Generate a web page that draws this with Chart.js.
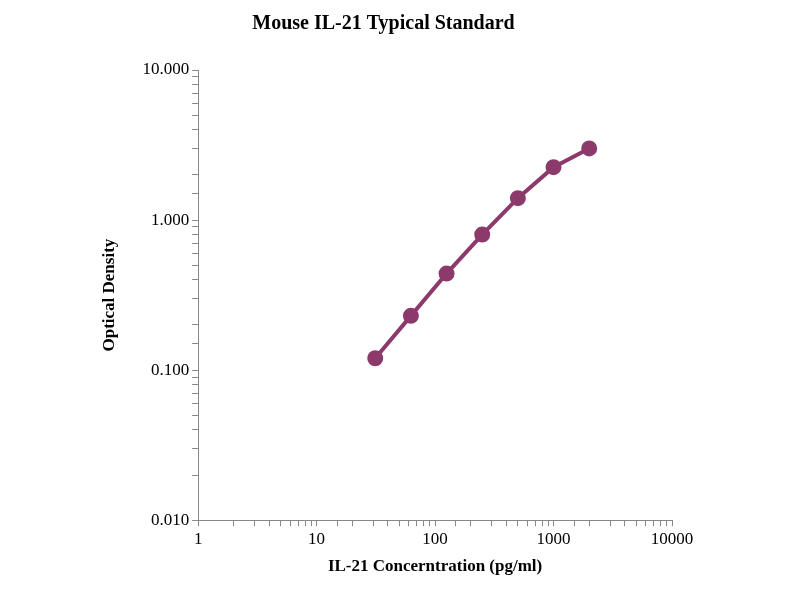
<!DOCTYPE html><html><head><script src="https://cdn.jsdelivr.net/npm/chart.js@4"></script>
<style>body{margin:0;background:#fff}#w{width:800px;height:600px}</style></head><body><div id="w"><canvas id="c"></canvas></div>
<script>
const concentrations=[31.25,62.5,125,250,500,1000,2000];
const densities=[0.120,0.230,0.440,0.800,1.40,2.25,3.00];
const yTickLabels={0.01:'0.010',0.1:'0.100',1:'1.000',10:'10.000'};
const xTickLabels={1:'1',10:'10',100:'100',1000:'1000',10000:'10000'};
const col='#8c3a6b';
const font={family:'Liberation Serif',weight:'bold',size:17};
new Chart(document.getElementById('c'),{type:'scatter',
data:{datasets:[{data:concentrations.map((x,i)=>({x,y:densities[i]})),showLine:true,borderColor:col,backgroundColor:col,borderWidth:4,pointRadius:6,pointHoverRadius:6}]},
options:{responsive:true,maintainAspectRatio:false,animation:false,
layout:{padding:{top:10,right:128,bottom:19,left:95}},
plugins:{legend:{display:false},tooltip:{enabled:false},
title:{display:true,text:'Mouse IL-21 Typical Standard',color:'#000',font:{family:'Liberation Serif',weight:'bold',size:20},padding:{top:2,bottom:34}}},
scales:{
x:{type:'logarithmic',min:1,max:10000,border:{color:'#888',width:1},
grid:{drawOnChartArea:false,tickLength:6,color:'#888'},
ticks:{autoSkip:false,maxRotation:0,color:'#000',font:{family:'Liberation Serif',size:17},callback:v=>xTickLabels[v]||''},
title:{display:true,text:'IL-21 Concerntration (pg/ml)',color:'#000',font,padding:{top:4}}},
y:{type:'logarithmic',min:0.01,max:10,border:{color:'#888',width:1},
grid:{drawOnChartArea:false,tickLength:6,color:'#888'},
ticks:{autoSkip:false,color:'#000',font:{family:'Liberation Serif',size:17},callback:v=>yTickLabels[v]||''},
title:{display:true,text:'Optical Density',color:'#000',font,padding:{bottom:20}}}}}});
</script></body></html>
